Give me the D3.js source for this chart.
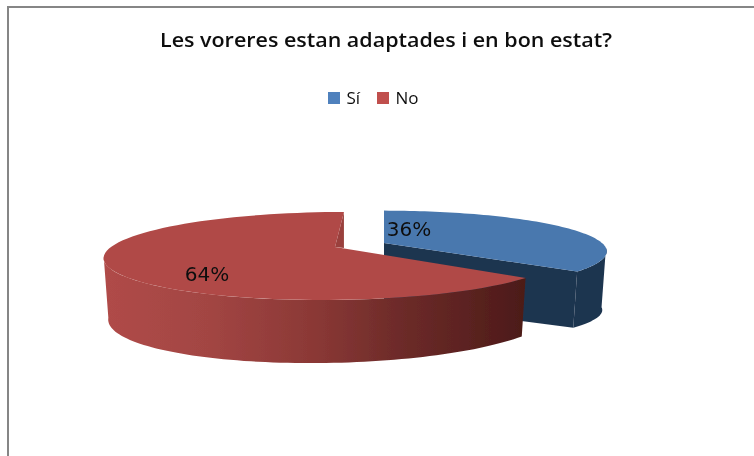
<!DOCTYPE html>
<html>
<head>
<meta charset="utf-8">
<script src="https://cdn.jsdelivr.net/npm/d3@7"></script>
<style>
html, body { margin: 0; padding: 0; background: #fff; }
svg { display: block; }
text { font-family: "Open Sans", "Noto Sans", sans-serif; fill: #111; }
</style>
</head>
<body>
<div id="chart"></div>
<script>
// Data
var categories = ["Sí", "No"];
var values = [36, 64];
var chartTitle = "Les voreres estan adaptades i en bon estat?";

var svgWidth = 754;
var svgHeight = 456;

var svg = d3.select("#chart")
    .append("svg")
    .attr("width", svgWidth)
    .attr("height", svgHeight);

var defs = svg.append("defs");
defs.append("filter").attr("id", "soft")
    .append("feGaussianBlur").attr("stdDeviation", 0.45);

// Red side wall shading runs left to right
var redSide = defs.append("linearGradient")
    .attr("id", "redSide")
    .attr("gradientUnits", "userSpaceOnUse")
    .attr("x1", 104).attr("x2", 529).attr("y1", 0).attr("y2", 0);
[[0, "#b04b48"], [0.25, "#a24543"], [0.5, "#8a3835"], [0.68, "#6f2c2a"], [1, "#4b1a18"]].forEach(function (s) {
    redSide.append("stop").attr("offset", s[0]).attr("stop-color", s[1]);
});

// Chart frame, the crop leaves only the top and left sides
svg.append("path")
    .attr("d", "M8,456V7H754")
    .attr("fill", "none")
    .attr("stroke", "#868686")
    .attr("stroke-width", 2);

// Pie angles, clockwise from the back of the disc
var pie = d3.pie().sort(null).value(function (d) { return d; });
var slices = pie(values);

// Each slice is pulled apart, so each has its own apex, radius and wall height
var looks = [
    { apex: [384, 243], r: 218, h: 39, skew: 0, drop: [60, 6, 0], top: "#4878ae", wall: "#1f3550", cut: "#1f3550" },
    { apex: [335, 247], r: 224, h: 42.2, skew: 10.8, drop: [57, -6, -3], top: "#b04a47", wall: "url(#redSide)" }
];
var persp = 0.2046;

// Disc angle to screen position, with simple perspective; low is the lower rim
function project(look, a, low) {
    var X = Math.sin(a), Z = Math.cos(a);
    var s = 1 / (1 + persp * Z);
    var x = look.apex[0] + (look.r * X + look.skew * Z) * s * (low ? 0.98 : 1);
    var y = look.apex[1] - look.h * Z * s;
    if (low) y += look.drop[0] + look.drop[1] * Z + look.drop[2] * X;
    return [x, y];
}

var lineGen = d3.line();

function rim(look, start, end, low) {
    var steps = 80;
    return d3.range(steps + 1).map(function (i) {
        return project(look, start + (end - start) * i / steps, low);
    });
}

var pieGroup = svg.append("g").attr("filter", "url(#soft)");

// Blue slice goes first, red sits in front of it
[0, 1].forEach(function (i) {
    var s = slices[i], look = looks[i];

    var topRim = rim(look, s.startAngle, s.endAngle, false);
    var lowRim = rim(look, s.startAngle, s.endAngle, true);

    if (i === 0) {
        // cut face on the open side of the blue slice
        var endTop = topRim[topRim.length - 1];
        var endLow = lowRim[lowRim.length - 1];
        pieGroup.append("path")
            .attr("d", lineGen([look.apex, endTop, endLow, [look.apex[0], look.apex[1] + look.drop[0]]]) + "Z")
            .attr("fill", look.cut);
    } else {
        // small sliver of the inner wall at the gap
        var back = topRim[topRim.length - 1];
        pieGroup.append("path")
            .attr("d", lineGen([look.apex, back, [back[0], look.apex[1] + 1]]) + "Z")
            .attr("fill", "#9a413e");
    }

    // outer wall, only the part facing the viewer (from one side extreme of the disc)
    var wallStart = i === 0 ? Math.PI * 0.54 : s.startAngle;
    var wallEnd = i === 0 ? s.endAngle : Math.PI * 1.43;
    var wallTop = rim(look, wallStart, wallEnd, false);
    var wallLow = rim(look, wallStart, wallEnd, true).reverse();
    pieGroup.append("path")
        .attr("d", lineGen(wallTop.concat(wallLow)) + "Z")
        .attr("fill", look.wall);

    // top face
    pieGroup.append("path")
        .attr("d", lineGen([look.apex].concat(topRim)) + "Z")
        .attr("fill", look.top);
});

var textGroup = svg.append("g").attr("filter", "url(#soft)");

// Percent labels
var labelPos = [[409, 236], [207, 281]];
textGroup.selectAll(".pct")
    .data(values)
    .enter()
    .append("text")
    .attr("class", "pct")
    .attr("x", function (d, i) { return labelPos[i][0]; })
    .attr("y", function (d, i) { return labelPos[i][1]; })
    .attr("text-anchor", "middle")
    .attr("font-size", 20)
    .style("font-family", "'DejaVu Sans', sans-serif")
    .text(function (d) { return d + "%"; });

// Title
textGroup.append("text")
    .attr("x", 386)
    .attr("y", 47)
    .attr("text-anchor", "middle")
    .attr("font-size", 20)
    .attr("font-weight", 600)
    .attr("textLength", 452)
    .attr("lengthAdjust", "spacingAndGlyphs")
    .text(chartTitle);

// Legend
var legendColors = ["#4f81bd", "#c0504d"];
var legendX = [328, 377];
var legend = textGroup.selectAll(".legend")
    .data(categories)
    .enter()
    .append("g")
    .attr("class", "legend")
    .attr("transform", function (d, i) { return "translate(" + legendX[i] + ",92)"; });
legend.append("rect")
    .attr("width", 12)
    .attr("height", 12)
    .attr("fill", function (d, i) { return legendColors[i]; });
legend.append("text")
    .attr("x", 18.5)
    .attr("y", 12)
    .attr("font-size", 17)
    .text(function (d) { return d; });
</script>
</body>
</html>
